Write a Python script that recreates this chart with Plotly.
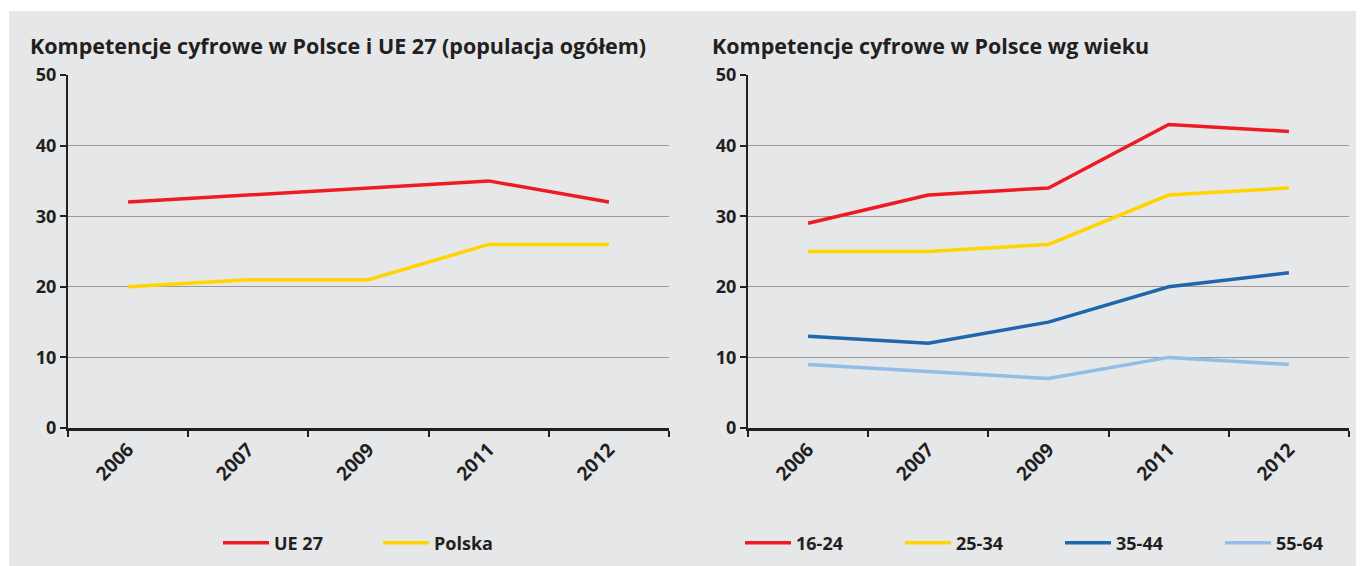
import plotly.graph_objects as go

# page body margin (8px) shifts the figure; figure coordinates are page minus OFF
OFF = 8
W, H = 1364 - OFF, 566 - OFF

years = ["2006", "2007", "2009", "2011", "2012"]

ue27 = [32, 33, 34, 35, 32]
polska = [20, 21, 21, 26, 26]

age_16_24 = [29, 33, 34, 43, 42]
age_25_34 = [25, 25, 26, 33, 34]
age_35_44 = [13, 12, 15, 20, 22]
age_55_64 = [9, 8, 7, 10, 9]

y_ticks = [0, 10, 20, 30, 40, 50]

title_left = "Kompetencje cyfrowe w Polsce i UE 27 (populacja ogółem)"
title_right = "Kompetencje cyfrowe w Polsce wg wieku"

RED = "#ed1c24"
YELLOW = "#ffd400"
DBLUE = "#1f67ac"
LBLUE = "#92bde6"
BG = "#e6e7e9"
TXT = "#231f20"
FONT = "Open Sans"


def px(x):
    return (x - OFF) / W


def py(y):
    return 1 - (y - OFF) / H


fig = go.Figure()

fig.add_trace(go.Scatter(x=years, y=ue27, mode="lines", name="UE 27",
                         line=dict(color=RED, width=3.5), xaxis="x", yaxis="y", legend="legend"))
fig.add_trace(go.Scatter(x=years, y=polska, mode="lines", name="Polska",
                         line=dict(color=YELLOW, width=3.5), xaxis="x", yaxis="y", legend="legend"))

for name, vals, col in [("16-24", age_16_24, RED), ("25-34", age_25_34, YELLOW),
                        ("35-44", age_35_44, DBLUE), ("55-64", age_55_64, LBLUE)]:
    fig.add_trace(go.Scatter(x=years, y=vals, mode="lines", name=name,
                             line=dict(color=col, width=3.5), xaxis="x2", yaxis="y2", legend="legend2"))

xaxis_common = dict(
    type="category", range=[-0.5, 4.5], tickson="boundaries",
    ticks="outside", ticklen=6, tickwidth=2, tickcolor=TXT,
    showline=True, linecolor=TXT, linewidth=3, showgrid=False, zeroline=False,
    tickangle=-45, tickfont=dict(family=FONT, size=19, color=TXT, weight="bold"),
    fixedrange=True,
)
yaxis_common = dict(
    range=[0, 50], tickvals=y_ticks, ticks="outside", ticklen=6, tickwidth=2, tickcolor=TXT,
    showline=True, linecolor=TXT, linewidth=2, showgrid=True, gridcolor="#9a9a9a", gridwidth=1,
    zeroline=False, tickfont=dict(family=FONT, size=18, color=TXT, weight="bold"),
    fixedrange=True,
)

legend_common = dict(orientation="h", yanchor="middle", bgcolor="rgba(0,0,0,0)",
                     font=dict(family=FONT, size=18, color=TXT, weight="bold"),
                     entrywidth=99, entrywidthmode="pixels", itemwidth=46)

fig.update_layout(
    width=W, height=H,
    margin=dict(l=0, r=0, t=0, b=0, autoexpand=False),
    paper_bgcolor=BG, plot_bgcolor="rgba(0,0,0,0)",
    xaxis=dict(domain=[px(68), px(669)], anchor="y", **xaxis_common),
    yaxis=dict(domain=[py(428), py(75)], anchor="x", **yaxis_common),
    xaxis2=dict(domain=[px(748), px(1349)], anchor="y2", **xaxis_common),
    yaxis2=dict(domain=[py(428), py(75)], anchor="x2", **yaxis_common),
    legend=dict(x=px(378), y=py(543), xanchor="center", **legend_common),
    legend2=dict(x=px(1060), y=py(543), xanchor="center", **legend_common),
    shapes=[
        dict(type="rect", xref="paper", yref="paper", x0=0, x1=1, y0=py(11), y1=1,
             fillcolor="white", line=dict(width=0), layer="below"),
        dict(type="rect", xref="paper", yref="paper", x0=0, x1=px(9), y0=0, y1=1,
             fillcolor="white", line=dict(width=0), layer="below"),
    ],
    annotations=[
        dict(text=title_left, xref="paper", yref="paper", x=px(28), y=py(45),
             xanchor="left", yanchor="middle", showarrow=False,
             font=dict(family=FONT, size=21.5, color=TXT, weight="bold")),
        dict(text=title_right, xref="paper", yref="paper", x=px(710), y=py(45),
             xanchor="left", yanchor="middle", showarrow=False,
             font=dict(family=FONT, size=21.5, color=TXT, weight="bold")),
    ],
    showlegend=True,
)

fig.write_html("out.html")
